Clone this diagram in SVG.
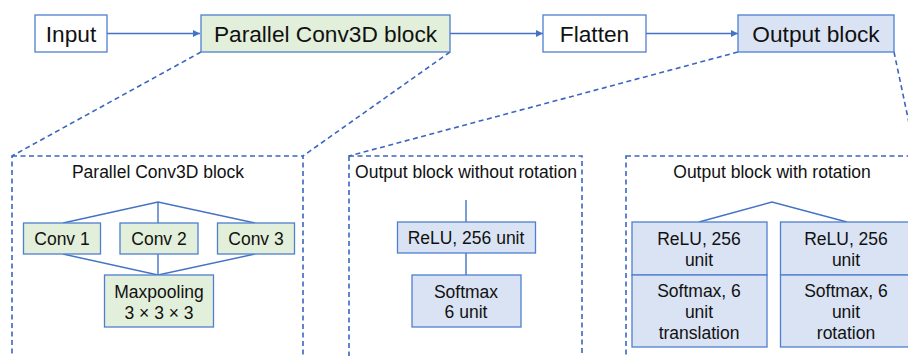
<svg xmlns="http://www.w3.org/2000/svg" width="908" height="356" viewBox="0 0 908 356">
<style>
text{font-family:"Liberation Sans",Arial,sans-serif;fill:#111;text-anchor:middle}
.big{font-size:22.7px}
.sm{font-size:17.5px}
.box{stroke:#4f7fd0;stroke-width:1.3}
.w{fill:#fff}.g{fill:#e2efda}.b{fill:#dae3f3}
.dash{fill:none;stroke:#3a66c0;stroke-width:1.6;stroke-dasharray:5,3.5}
.ln{fill:none;stroke:#4472c4;stroke-width:1.4}
</style>
<defs>
<marker id="ah" viewBox="0 0 10 10" refX="10" refY="5" markerWidth="7" markerHeight="7" markerUnits="userSpaceOnUse" orient="auto">
<path d="M0,0 L10,5 L0,10 z" fill="#4472c4"/>
</marker>
</defs>
<rect width="908" height="356" fill="#fff"/>
<g id="connectors">
<line class="ln" x1="107" y1="33.5" x2="200" y2="33.5" marker-end="url(#ah)"/>
<line class="ln" x1="450" y1="33.5" x2="543" y2="33.5" marker-end="url(#ah)"/>
<line class="ln" x1="646" y1="33.5" x2="738" y2="33.5" marker-end="url(#ah)"/>
<line class="dash" x1="201" y1="52" x2="12" y2="156"/>
<line class="dash" x1="450" y1="52" x2="303" y2="156"/>
<line class="dash" x1="738" y1="52" x2="349" y2="156"/>
<line class="dash" x1="894" y1="52" x2="916" y2="156"/>
<polyline class="ln" points="63,223 158,202 255,223"/>
<line class="ln" x1="158" y1="202" x2="158" y2="223"/>
<polyline class="ln" points="63,254 158,275 255,254"/>
<line class="ln" x1="158" y1="254" x2="158" y2="275"/>
<line class="ln" x1="466" y1="200" x2="466" y2="222"/>
<line class="ln" x1="466" y1="253" x2="466" y2="275"/>
<polyline class="ln" points="699,222 772,202 847,222"/>
</g>
<g id="input"><rect class="box w" x="35" y="15" width="72" height="37"/><text class="big" x="71" y="41.5">Input</text></g>
<g id="parallel"><rect class="box g" x="201" y="15" width="249" height="37"/><text class="big" x="325.5" y="41.5">Parallel Conv3D block</text></g>
<g id="flatten"><rect class="box w" x="543" y="15" width="103" height="37"/><text class="big" x="594.5" y="41.5">Flatten</text></g>
<g id="output"><rect class="box b" x="738" y="15" width="156" height="37"/><text class="big" x="816" y="41.5">Output block</text></g>

<g id="panel-parallel">
<rect class="dash" x="12" y="156" width="291" height="220"/>
<text class="sm" x="158" y="178">Parallel Conv3D block</text>
</g>
<g id="conv1"><rect class="box g" x="23.5" y="223" width="77" height="31"/><text class="sm" x="62" y="244.5">Conv 1</text></g>
<g id="conv2"><rect class="box g" x="120" y="223" width="78" height="31"/><text class="sm" x="159" y="244.5">Conv 2</text></g>
<g id="conv3"><rect class="box g" x="217.5" y="223" width="77" height="31"/><text class="sm" x="256" y="244.5">Conv 3</text></g>
<g id="maxpool"><rect class="box g" x="104.5" y="275" width="109" height="52"/><text class="sm" x="159" y="297.5">Maxpooling</text><text class="sm" x="159" y="318.5">3 × 3 × 3</text></g>

<g id="panel-norot">
<rect class="dash" x="349" y="156" width="233" height="220"/>
<text class="sm" x="466" y="178">Output block without rotation</text>
</g>
<g id="relu1"><rect class="box b" x="397.5" y="222" width="138" height="31"/><text class="sm" x="466" y="243.5">ReLU, 256 unit</text></g>
<g id="softmax1"><rect class="box b" x="412" y="275" width="109" height="52"/><text class="sm" x="466" y="297.5">Softmax</text><text class="sm" x="466" y="318">6 unit</text></g>

<g id="panel-rot">
<rect class="dash" x="626" y="156" width="300" height="220"/>
<text class="sm" x="772" y="178">Output block with rotation</text>
</g>
<g id="relu-t"><rect class="box b" x="632" y="222" width="135" height="53"/><text class="sm" x="699" y="245">ReLU, 256</text><text class="sm" x="699" y="265.5">unit</text></g>
<g id="softmax-t"><rect class="box b" x="632" y="275" width="135" height="72"/><text class="sm" x="699" y="297">Softmax, 6</text><text class="sm" x="699" y="318">unit</text><text class="sm" x="699" y="339">translation</text></g>
<g id="relu-r"><rect class="box b" x="780.5" y="222" width="135" height="53"/><text class="sm" x="846" y="245">ReLU, 256</text><text class="sm" x="846" y="265.5">unit</text></g>
<g id="softmax-r"><rect class="box b" x="780.5" y="275" width="135" height="72"/><text class="sm" x="846" y="297">Softmax, 6</text><text class="sm" x="846" y="318">unit</text><text class="sm" x="846" y="339">rotation</text></g>
</svg>
